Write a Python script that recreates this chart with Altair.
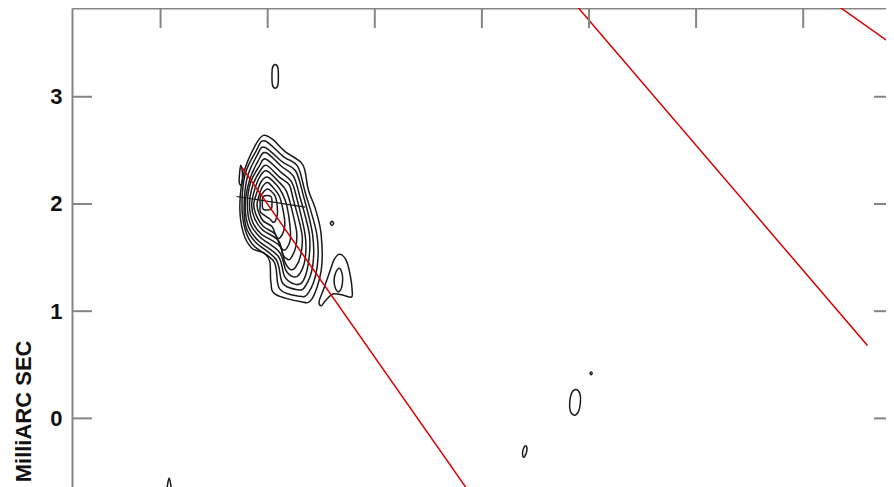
import altair as alt
import pandas as pd

# ---------------- data (milliarcseconds) ----------------
X_TICKS = [-4, -3, -2, -1, 0, 1, 2]
Y_TICKS = [0, 1, 2, 3]
X_DOMAIN = [-4.827, 2.773]
Y_DOMAIN = [-0.640, 3.828]

# nested contours of the main component (outer -> inner)
CORE_0 = [(-3.04, 2.64), (-2.95, 2.60), (-2.84, 2.49), (-2.69, 2.39), (-2.65, 2.30),
          (-2.62, 2.13), (-2.55, 1.94), (-2.50, 1.71), (-2.50, 1.38), (-2.59, 1.11),
          (-2.70, 1.09), (-2.93, 1.16), (-2.97, 1.27), (-2.98, 1.46), (-3.03, 1.54),
          (-3.15, 1.59), (-3.23, 1.74), (-3.26, 1.99), (-3.22, 2.30), (-3.12, 2.54)]
CORE_1 = [(-3.03, 2.59), (-2.85, 2.44), (-2.72, 2.35), (-2.65, 2.11), (-2.54, 1.71),
          (-2.54, 1.40), (-2.62, 1.17), (-2.71, 1.14), (-2.89, 1.21), (-2.94, 1.46),
          (-3.13, 1.61), (-3.21, 1.76), (-3.24, 1.99), (-3.21, 2.28), (-3.11, 2.49)]
CORE_2 = [(-3.03, 2.53), (-2.86, 2.39), (-2.74, 2.31), (-2.67, 2.09), (-2.58, 1.71),
          (-2.58, 1.42), (-2.65, 1.23), (-2.72, 1.20), (-2.86, 1.26), (-2.92, 1.48),
          (-3.11, 1.64), (-3.20, 1.78), (-3.22, 1.99), (-3.19, 2.25), (-3.10, 2.45)]
CORE_3 = [(-3.02, 2.48), (-2.87, 2.35), (-2.76, 2.26), (-2.70, 2.07), (-2.61, 1.71),
          (-2.62, 1.45), (-2.67, 1.28), (-2.74, 1.25), (-2.84, 1.32), (-2.90, 1.51),
          (-3.09, 1.66), (-3.18, 1.79), (-3.21, 1.99), (-3.17, 2.22), (-3.09, 2.40)]
CORE_4 = [(-3.02, 2.42), (-2.88, 2.30), (-2.78, 2.21), (-2.73, 2.06), (-2.65, 1.71),
          (-2.65, 1.49), (-2.70, 1.35), (-2.76, 1.32), (-2.83, 1.38), (-2.89, 1.55),
          (-3.07, 1.69), (-3.16, 1.81), (-3.19, 1.99), (-3.16, 2.20), (-3.08, 2.35)]
CORE_5 = [(-3.01, 2.36), (-2.89, 2.25), (-2.80, 2.18), (-2.76, 2.04), (-2.68, 1.72),
          (-2.69, 1.53), (-2.74, 1.41), (-2.79, 1.39), (-2.84, 1.46), (-2.89, 1.61),
          (-3.06, 1.72), (-3.14, 1.83), (-3.17, 1.99), (-3.14, 2.17), (-3.07, 2.31)]
CORE_6 = [(-3.01, 2.31), (-2.90, 2.21), (-2.83, 2.13), (-2.79, 2.01), (-2.73, 1.74),
          (-2.74, 1.59), (-2.78, 1.50), (-2.81, 1.48), (-2.86, 1.53), (-2.90, 1.66),
          (-3.05, 1.76), (-3.12, 1.86), (-3.15, 1.99), (-3.12, 2.14), (-3.07, 2.26)]
CORE_7 = [(-3.00, 2.25), (-2.91, 2.17), (-2.86, 2.09), (-2.82, 1.98), (-2.79, 1.78),
          (-2.79, 1.66), (-2.82, 1.59), (-2.85, 1.57), (-2.89, 1.62), (-2.93, 1.72),
          (-3.04, 1.79), (-3.10, 1.88), (-3.13, 1.99), (-3.10, 2.11), (-3.06, 2.21)]
CORE_8 = [(-3.00, 2.20), (-2.93, 2.13), (-2.89, 2.07), (-2.86, 1.96), (-2.84, 1.83),
          (-2.85, 1.75), (-2.88, 1.69), (-2.91, 1.68), (-2.93, 1.72), (-2.96, 1.79),
          (-3.04, 1.84), (-3.08, 1.91), (-3.10, 1.99), (-3.08, 2.08), (-3.05, 2.16)]
CORE_9 = [(-3.00, 2.14), (-2.94, 2.09), (-2.92, 2.04), (-2.91, 1.97), (-2.91, 1.90),
          (-2.93, 1.84), (-2.95, 1.83), (-2.98, 1.86), (-3.04, 1.90), (-3.07, 1.93),
          (-3.07, 1.99), (-3.07, 2.06), (-3.04, 2.11)]
CORE_10 = [(-3.04, 2.07), (-2.97, 2.07), (-2.96, 2.00), (-2.97, 1.95), (-3.04, 1.95),
           (-3.05, 2.01)]

# isolated low-level contours
SPIKE = [(-3.25, 2.36), (-3.235, 2.28), (-3.245, 2.18), (-3.265, 2.20), (-3.262, 2.29)]
TOP_BLOB = [(-2.93, 3.30), (-2.905, 3.27), (-2.90, 3.19), (-2.905, 3.11), (-2.93, 3.08),
            (-2.955, 3.11), (-2.96, 3.19), (-2.955, 3.27)]
DOT_A = [(-2.40, 1.84), (-2.385, 1.82), (-2.40, 1.80), (-2.415, 1.82)]
TEAR_OUTER = [(-2.33, 1.53), (-2.27, 1.48), (-2.23, 1.34), (-2.21, 1.18), (-2.22, 1.13),
              (-2.30, 1.15), (-2.39, 1.16), (-2.46, 1.10), (-2.50, 1.05), (-2.52, 1.09),
              (-2.48, 1.20), (-2.42, 1.37), (-2.38, 1.48)]
TEAR_INNER = [(-2.33, 1.40), (-2.305, 1.35), (-2.30, 1.29), (-2.31, 1.22), (-2.34, 1.18),
              (-2.37, 1.22), (-2.38, 1.29), (-2.365, 1.36)]
OVAL_B = [(-0.12, 0.27), (-0.085, 0.23), (-0.08, 0.15), (-0.10, 0.06), (-0.14, 0.03),
          (-0.175, 0.07), (-0.18, 0.15), (-0.16, 0.24)]
DOT_B = [(0.02, 0.432), (0.03, 0.42), (0.02, 0.408), (0.01, 0.42)]
OVAL_C = [(-0.585, -0.26), (-0.58, -0.30), (-0.60, -0.355), (-0.615, -0.36),
          (-0.62, -0.32), (-0.605, -0.265)]
TIP = [(-3.92, -0.555), (-3.905, -0.62), (-3.895, -0.72), (-3.945, -0.72), (-3.935, -0.62)]

CONTOURS = {
    "c0": CORE_0, "c1": CORE_1, "c2": CORE_2, "c3": CORE_3, "c4": CORE_4,
    "c5": CORE_5, "c6": CORE_6, "c7": CORE_7, "c8": CORE_8, "c9": CORE_9,
    "c10": CORE_10, "spike": SPIKE, "top": TOP_BLOB, "dotA": DOT_A, "tearO": TEAR_OUTER,
    "tearI": TEAR_INNER, "ovalB": OVAL_B, "dotB": DOT_B, "ovalC": OVAL_C, "tip": TIP,
}

# red position-angle lines
RED_1 = [(-3.24, 2.34), (-1.11, -0.70)]
RED_2 = [(-0.16, 3.90), (2.60, 0.68)]
RED_3 = [(2.25, 3.90), (3.00, 3.37)]

# component marker
MARK_H = [(-3.29, 2.07), (-2.65, 1.97)]


def to_df(groups):
    rows = []
    for name, pts in groups.items():
        for i, (x, y) in enumerate(pts):
            rows.append({"x": x, "y": y, "g": name, "o": i})
    return pd.DataFrame(rows)


contour_df = to_df(CONTOURS)
red_df = to_df({"r1": RED_1, "r2": RED_2, "r3": RED_3})
mark_df = to_df({"m": MARK_H})
xt_df = pd.DataFrame({"v": X_TICKS})
yt_df = pd.DataFrame({"v": Y_TICKS})

W, H = 814, 479
FRAME = "#858585"

x_scale = alt.Scale(domain=X_DOMAIN, nice=False, zero=False)
y_scale = alt.Scale(domain=Y_DOMAIN, nice=False, zero=False)

x_axis = alt.Axis(orient="top", labels=False, ticks=False, title=None, grid=False,
                  domain=True, domainColor=FRAME, domainWidth=2)
y_axis = alt.Axis(orient="left", values=Y_TICKS, ticks=False, grid=False, domain=True,
                  domainColor=FRAME, domainWidth=2, labelFont="Liberation Sans",
                  labelFontSize=22, labelFontWeight="bold", labelColor="#111",
                  labelPadding=10, title="MilliARC SEC", titleFont="Liberation Sans",
                  titleFontSize=22, titleFontWeight="bold", titleColor="#111",
                  titleAngle=270, titleAlign="right", titleBaseline="middle",
                  titleX=-49, titleY=332)

X = alt.X("x:Q", scale=x_scale, axis=x_axis)
Y = alt.Y("y:Q", scale=y_scale, axis=y_axis)

contours = alt.Chart(contour_df).mark_line(
    interpolate="cardinal-closed", color="#1a1a1a", strokeWidth=1.5, clip=True
).encode(x=X, y=Y, detail="g:N", order="o:Q")

marker = alt.Chart(mark_df).mark_line(color="#1a1a1a", strokeWidth=1.2, clip=True).encode(
    x=X, y=Y, detail="g:N", order="o:Q")

red = alt.Chart(red_df).mark_line(color="#d40000", strokeWidth=1.5, clip=True).encode(
    x=X, y=Y, detail="g:N", order="o:Q")

top_ticks = alt.Chart(xt_df).mark_rule(color=FRAME, strokeWidth=2).encode(
    x=alt.X("v:Q", scale=x_scale, axis=x_axis), y=alt.value(0), y2=alt.value(20))
left_ticks = alt.Chart(yt_df).mark_rule(color=FRAME, strokeWidth=2).encode(
    y=alt.Y("v:Q", scale=y_scale, axis=y_axis), x=alt.value(0), x2=alt.value(20))
right_ticks = alt.Chart(yt_df).mark_rule(color=FRAME, strokeWidth=2).encode(
    y=alt.Y("v:Q", scale=y_scale, axis=y_axis), x=alt.value(W - 12), x2=alt.value(W))

chart = alt.layer(contours, marker, red, top_ticks, left_ticks, right_ticks).properties(
    width=W, height=H,
    padding={"left": 64, "top": 0, "right": 0, "bottom": 0},
    autosize=alt.AutoSizeParams(type="none"),
).configure_view(stroke=None).configure(background="white")

chart.save("out.html", embed_options={"renderer": "svg", "actions": False})
